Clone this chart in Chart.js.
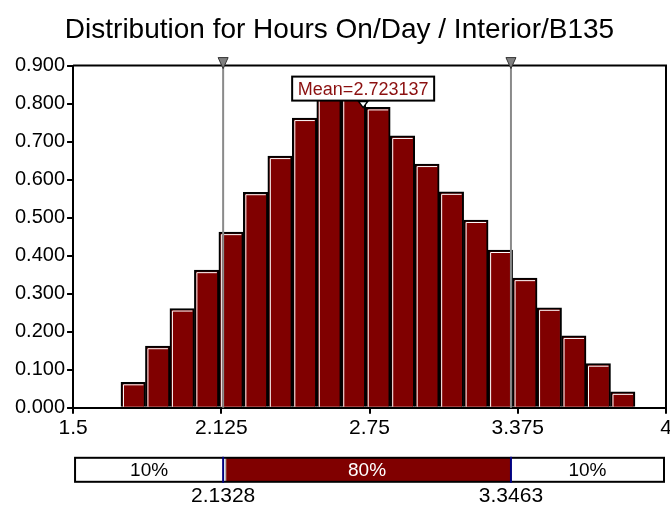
<!DOCTYPE html>
<html>
<head>
<meta charset="utf-8">
<script src="https://cdn.jsdelivr.net/npm/chart.js@4.4.1/dist/chart.umd.min.js"></script>
<style>
  body { margin: 0; background: #fff; }
  canvas { display: block; }
</style>
</head>
<body>
<canvas id="dist-chart" width="670" height="510"></canvas>
<script>
/* ============================== DATA ============================== */
const titleText = 'Distribution for Hours On/Day / Interior/B135';

// bin centres (hours) and bar heights (density)
const binCenters = [1.7536, 1.8568, 1.9600, 2.0632, 2.1664, 2.2696, 2.3728,
    2.4760, 2.5792, 2.6824, 2.7856, 2.8888, 2.9920, 3.0952,
    3.1984, 3.3016, 3.4048, 3.5080, 3.6112, 3.7144, 3.8176];
const densities = [0.067, 0.162, 0.261, 0.362, 0.462, 0.567, 0.662,
    0.762, 0.864, 0.865, 0.790, 0.715, 0.641, 0.568,
    0.494, 0.415, 0.341, 0.263, 0.189, 0.116, 0.042];

const xTicks = [1.5, 2.125, 2.75, 3.375, 4];
const yTicks = [0, 0.1, 0.2, 0.3, 0.4, 0.5, 0.6, 0.7, 0.8, 0.9];

const percentileLow = 2.1328;
const percentileHigh = 3.3463;
const meanValue = 2.723137;
const stripLabels = ['10%', '80%', '10%'];

const FONT = "'Liberation Sans', Arial, sans-serif";
const BAR_RED = '#800000';


/* ============================== PLUGINS ============================== */
const overlayPlugin = {
    id: 'overlayPlugin',
    afterDatasetsDraw(chart) {
        const { ctx, chartArea: area, scales: { x } } = chart;
        const meta = chart.getDatasetMeta(0);
        ctx.save();

        // white highlight along the top and left edge of each bar
        ctx.strokeStyle = '#fff';
        ctx.lineWidth = 1;
        meta.data.forEach(bar => {
            const p = bar.getProps(['x', 'y', 'width', 'base'], true);
            const left = p.x - p.width / 2;
            ctx.beginPath();
            ctx.moveTo(left + 2.5, p.base);
            ctx.lineTo(left + 2.5, p.y + 2.5);
            ctx.lineTo(left + p.width - 2, p.y + 2.5);
            ctx.stroke();
        });

        // top and right frame
        ctx.strokeStyle = '#000';
        ctx.lineWidth = 2;
        ctx.beginPath();
        ctx.moveTo(area.left, area.top);
        ctx.lineTo(area.right, area.top);
        ctx.lineTo(area.right, area.bottom);
        ctx.stroke();

        // percentile lines with grey markers
        [percentileLow, percentileHigh].forEach(v => {
            const px = x.getPixelForValue(v);
            ctx.strokeStyle = '#8a8a8a';
            ctx.lineWidth = 2;
            ctx.beginPath();
            ctx.moveTo(px, area.top);
            ctx.lineTo(px, area.bottom);
            ctx.stroke();

            ctx.beginPath();
            ctx.moveTo(px - 5, area.top - 8);
            ctx.lineTo(px + 5, area.top - 8);
            ctx.lineTo(px, area.top + 3);
            ctx.closePath();
            ctx.fillStyle = '#808080';
            ctx.fill();
            ctx.strokeStyle = '#333';
            ctx.lineWidth = 1;
            ctx.stroke();
        });

        // mean label
        const mx = x.getPixelForValue(meanValue);
        const boxW = 142, boxH = 24;
        const boxTop = area.top + 11;
        ctx.fillStyle = '#fff';
        ctx.fillRect(mx - boxW / 2, boxTop, boxW, boxH);
        ctx.strokeStyle = '#000';
        ctx.lineWidth = 2;
        ctx.strokeRect(mx - boxW / 2, boxTop, boxW, boxH);
        ctx.fillStyle = '#8b0f0f';
        ctx.font = '18px ' + FONT;
        ctx.textAlign = 'center';
        ctx.textBaseline = 'middle';
        ctx.fillText('Mean=' + meanValue.toFixed(6), mx, boxTop + boxH / 2 + 1);

        // mean marker
        ctx.beginPath();
        ctx.moveTo(mx - 4.5, boxTop + boxH + 1);
        ctx.lineTo(mx + 4.5, boxTop + boxH + 1);
        ctx.lineTo(mx, boxTop + boxH + 7);
        ctx.closePath();
        ctx.fillStyle = '#fff';
        ctx.fill();
        ctx.strokeStyle = '#000';
        ctx.lineWidth = 1.5;
        ctx.stroke();

        ctx.restore();
    },
    afterDraw(chart) {
        const { ctx, chartArea: area, scales: { x } } = chart;
        const left = area.left + 2, right = area.right - 2;
        const top = area.bottom + 50, h = 24;
        const pLo = x.getPixelForValue(percentileLow);
        const pHi = x.getPixelForValue(percentileHigh);
        ctx.save();

        ctx.fillStyle = '#fff';
        ctx.fillRect(left, top, right - left, h);
        ctx.fillStyle = BAR_RED;
        ctx.fillRect(pLo + 3, top, pHi - pLo - 3, h);
        ctx.strokeStyle = '#aaa';
        ctx.lineWidth = 1;
        ctx.beginPath();
        ctx.moveTo(pLo + 2.5, top);
        ctx.lineTo(pLo + 2.5, top + h);
        ctx.stroke();

        ctx.strokeStyle = '#000';
        ctx.lineWidth = 2;
        ctx.strokeRect(left, top, right - left, h);

        ctx.strokeStyle = '#000080';
        ctx.lineWidth = 2;
        [pLo, pHi].forEach(px => {
            ctx.beginPath();
            ctx.moveTo(px, top - 1);
            ctx.lineTo(px, top + h + 1);
            ctx.stroke();
        });

        ctx.font = '19px ' + FONT;
        ctx.textAlign = 'center';
        ctx.textBaseline = 'middle';
        const centers = [(left + pLo) / 2, (pLo + pHi) / 2, (pHi + right) / 2];
        stripLabels.forEach((s, i) => {
            ctx.fillStyle = i === 1 ? '#fff' : '#000';
            ctx.fillText(s, centers[i], top + h / 2 + 1);
        });

        ctx.fillStyle = '#000';
        ctx.font = '21px ' + FONT;
        ctx.textBaseline = 'top';
        ctx.fillText(percentileLow.toFixed(4), pLo, top + h + 4);
        ctx.fillText(percentileHigh.toFixed(4), pHi, top + h + 4);

        ctx.restore();
    }
};


/* ============================== GRAPH ============================== */
function distributionChart() {
    const ctx = document.getElementById('dist-chart').getContext('2d');

    new Chart(ctx, {
        type: 'bar',
        data: {
            datasets: [{
                data: binCenters.map((c, i) => ({ x: c, y: densities[i] })),
                backgroundColor: BAR_RED,
                borderColor: '#000',
                borderWidth: 2,
                barPercentage: 1,
                categoryPercentage: 1
            }]
        },
        options: {
            responsive: false,
            animation: false,
            layout: { padding: { left: 13, right: 4, top: 0, bottom: 67 } },
            scales: {
                x: {
                    type: 'linear',
                    offset: false,
                    min: 1.5,
                    max: 4,
                    afterBuildTicks: scale => { scale.ticks = xTicks.map(v => ({ value: v })); },
                    afterFit: scale => { scale.paddingRight = 2; },
                    grid: { offset: false, drawOnChartArea: false, drawTicks: true, tickLength: 6, color: '#000', lineWidth: 2 },
                    border: { display: true, color: '#000', width: 2 },
                    ticks: {
                        padding: 2,
                        color: '#000',
                        font: { family: FONT, size: 21 },
                        maxRotation: 0,
                        callback: v => String(v)
                    }
                },
                y: {
                    min: 0,
                    max: 0.9,
                    afterBuildTicks: scale => { scale.ticks = yTicks.map(v => ({ value: v })); },
                    grid: { drawOnChartArea: false, drawTicks: true, tickLength: 6, color: '#000', lineWidth: 2 },
                    border: { display: true, color: '#000', width: 2 },
                    ticks: {
                        padding: 2,
                        color: '#000',
                        font: { family: FONT, size: 20 },
                        callback: v => Number(v).toFixed(3)
                    }
                }
            },
            plugins: {
                legend: { display: false },
                tooltip: { enabled: false },
                title: {
                    display: true,
                    text: titleText,
                    color: '#000',
                    font: { family: FONT, size: 28, weight: 'normal' },
                    padding: { top: 13, bottom: 19 }
                }
            }
        },
        plugins: [overlayPlugin]
    });
}

distributionChart();
</script>
</body>
</html>
